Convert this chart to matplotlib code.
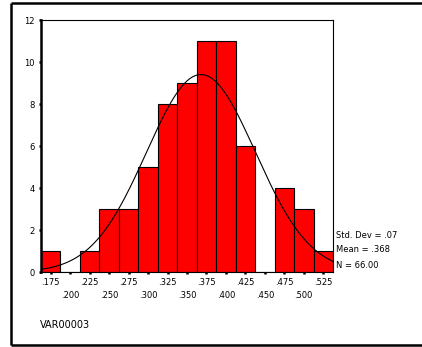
import numpy as np
import matplotlib.pyplot as plt
from matplotlib.lines import Line2D

# bin centres and counts
centers = [.175, .200, .225, .250, .275, .300, .325, .350, .375, .400,
           .425, .450, .475, .500, .525]
counts = [1, 0, 1, 3, 3, 5, 8, 9, 11, 11, 6, 0, 4, 3, 1]
labels = ['.175', '.200', '.225', '.250', '.275', '.300', '.325', '.350',
          '.375', '.400', '.425', '.450', '.475', '.500', '.525']
std_dev = 0.07
mean = 0.368
n_obs = 66
width = 0.025

W, H = 422, 347
fig = plt.figure(figsize=(W / 100, H / 100), dpi=100)
fig.patch.set_facecolor('white')

# outer frame (open on the right)
x0, y0, y1 = 11 / W, 2 / H, 344 / H
for xx, yy in [([x0, 1.0], [y1, y1]), ([x0, 1.0], [y0, y0]), ([x0, x0], [y0, y1])]:
    fig.add_artist(Line2D(xx, yy, transform=fig.transFigure,
                          color='black', linewidth=1.8, solid_capstyle='butt'))

ax = fig.add_axes([41 / W, (H - 272) / H, (333 - 41) / W, (272 - 20) / H])
ax.bar(centers, counts, width=width, color='#ff0000', edgecolor='black',
       linewidth=0.8, zorder=2)

xs = np.linspace(centers[0] - width / 2, centers[-1] + width / 2, 300)
ys = n_obs * width / (std_dev * np.sqrt(2 * np.pi)) * np.exp(-0.5 * ((xs - mean) / std_dev) ** 2)
ax.plot(xs, ys, color='black', linewidth=0.8, zorder=3)

ax.set_xlim(centers[0] - width / 2, centers[-1] + width / 2)
ax.set_ylim(0, 12)
ax.set_yticks(range(0, 13, 2))
ax.set_yticklabels([str(v) for v in range(0, 13, 2)], fontsize=6)
ax.set_xticks(centers)
ax.set_xticklabels([l if i % 2 == 0 else '\n' + l for i, l in enumerate(labels)],
                   fontsize=6, linespacing=1.6)
ax.tick_params(axis='x', length=1.5, width=1.8, pad=3)
ax.tick_params(axis='y', length=1.5, width=1.8, pad=3)
for s in ['top', 'right']:
    ax.spines[s].set_linewidth(0.8)
ax.spines['left'].set_linewidth(1.8)
ax.spines['bottom'].set_linewidth(0.8)

fig.text(336 / W, 1 - 236 / H, 'Std. Dev = .07', fontsize=6, va='center')
fig.text(336 / W, 1 - 250 / H, 'Mean = .368', fontsize=6, va='center')
fig.text(336 / W, 1 - 266 / H, 'N = 66.00', fontsize=6, va='center')
fig.text(40 / W, 1 - 325 / H, 'VAR00003', fontsize=7, va='center')

fig.savefig('out.png', dpi=100)
